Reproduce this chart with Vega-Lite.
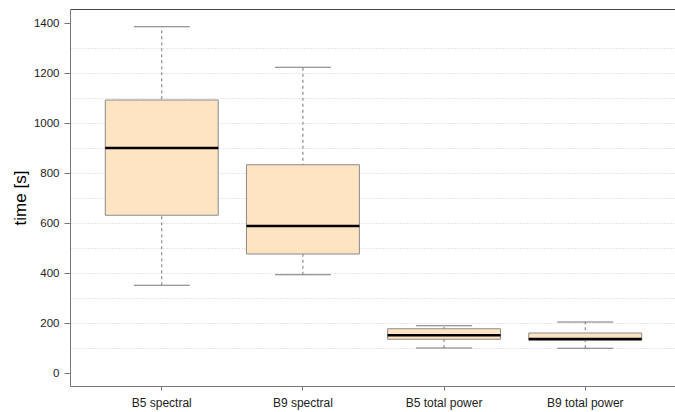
{
  "$schema": "https://vega.github.io/schema/vega-lite/v6.json",
  "autosize": "none",
  "padding": {"left": 70, "top": 9, "right": 0, "bottom": 26},
  "width": 607,
  "height": 377,
  "background": "white",
  "config": {
    "view": {"stroke": null},
    "axis": {"labelFont": "Liberation Sans", "titleFont": "Liberation Sans", "labelColor": "#222", "titleColor": "#000"}
  },
  "data": {
    "values": [
      {"group": "B5 spectral", "lower": 351, "q1": 631, "median": 900, "q3": 1092, "upper": 1385},
      {"group": "B9 spectral", "lower": 393, "q1": 476, "median": 588, "q3": 833, "upper": 1223},
      {"group": "B5 total power", "lower": 100, "q1": 135, "median": 151, "q3": 177, "upper": 189},
      {"group": "B9 total power", "lower": 99, "q1": 131, "median": 136, "q3": 160, "upper": 204}
    ]
  },
  "resolve": {"axis": {"x": "independent", "y": "independent"}},
  "layer": [
    {
      "mark": {"type": "rule", "color": "#777", "strokeDash": [3, 3], "strokeWidth": 1},
      "encoding": {
        "x": {"field": "group", "type": "nominal", "sort": null,
          "scale": {"type": "band", "paddingInner": 0.2, "paddingOuter": 0.25},
          "axis": {"title": null, "labelAngle": 0, "labelFontSize": 12, "tickSize": 4, "labelPadding": 7, "domainColor": "#777", "tickColor": "#777", "grid": false}},
        "y": {"field": "lower", "type": "quantitative",
          "scale": {"domain": [-52, 1456], "nice": false, "zero": false},
          "axis": {"title": "time [s]", "titleFontSize": 17, "titleFontWeight": "normal", "titlePadding": 4, "format": "d",
            "values": [0, 200, 400, 600, 800, 1000, 1200, 1400], "labelFontSize": 11.5, "tickSize": 6, "labelPadding": 5,
            "domainColor": "#777", "tickColor": "#777", "grid": false}},
        "y2": {"field": "upper"}
      }
    },
    {
      "mark": {"type": "bar", "fill": "#FFE4C4", "stroke": "#8a8a8a", "strokeWidth": 1, "opacity": 1},
      "encoding": {
        "x": {"field": "group", "type": "nominal", "sort": null,
          "axis": {"orient": "top", "title": null, "labels": false, "ticks": false, "domain": true, "domainColor": "#444", "grid": false}},
        "y": {"field": "q1", "type": "quantitative",
          "axis": {"orient": "left", "title": null, "labels": false, "ticks": false, "domain": false,
            "values": [100, 200, 300, 400, 500, 600, 700, 800, 900, 1000, 1100, 1200, 1300],
            "grid": true, "gridColor": "#cfcfcf", "gridDash": [1, 2], "gridWidth": 1}},
        "y2": {"field": "q3"}
      }
    },
    {
      "mark": {"type": "tick", "color": "#000", "opacity": 1, "size": 113, "thickness": 2.5, "orient": "horizontal"},
      "encoding": {
        "x": {"field": "group", "type": "nominal", "sort": null, "axis": null},
        "y": {"field": "median", "type": "quantitative", "axis": null}
      }
    },
    {
      "mark": {"type": "tick", "color": "#777", "opacity": 1, "size": 56, "thickness": 1, "orient": "horizontal"},
      "encoding": {
        "x": {"field": "group", "type": "nominal", "sort": null, "axis": null},
        "y": {"field": "upper", "type": "quantitative", "axis": null}
      }
    },
    {
      "mark": {"type": "tick", "color": "#777", "opacity": 1, "size": 56, "thickness": 1, "orient": "horizontal"},
      "encoding": {
        "x": {"field": "group", "type": "nominal", "sort": null, "axis": null},
        "y": {"field": "lower", "type": "quantitative", "axis": null}
      }
    }
  ]
}
